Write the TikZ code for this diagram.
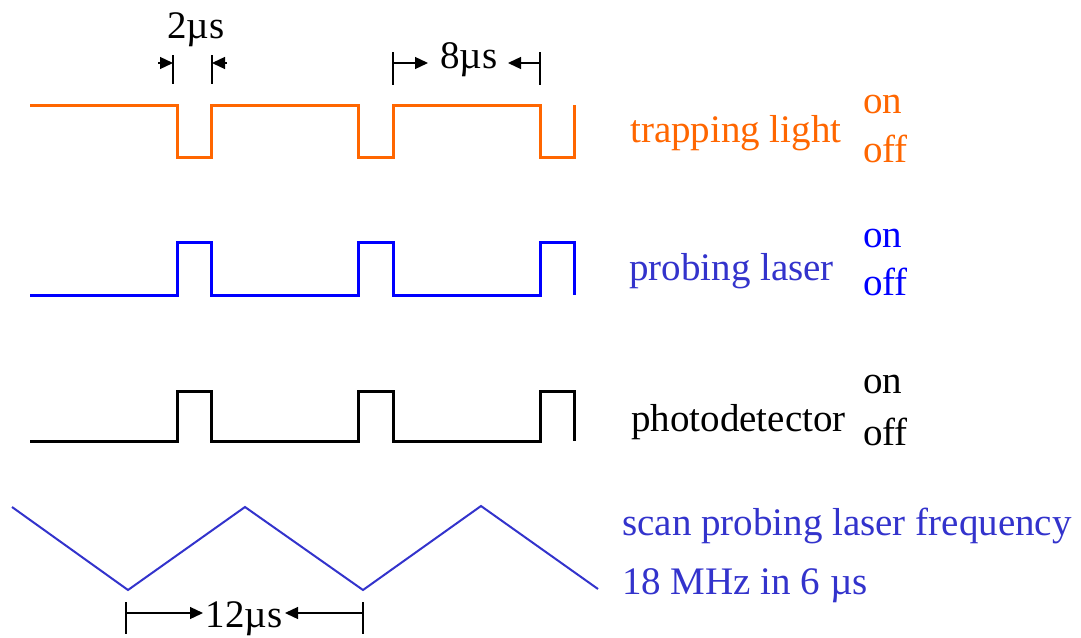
\documentclass[tikz,border=0pt]{standalone}
\usepackage{fontspec}
\setmainfont{Liberation Serif}
\usetikzlibrary{arrows.meta}
\definecolor{trap}{HTML}{FF6600}
\definecolor{probe}{HTML}{0000FF}
\definecolor{scanc}{HTML}{3333CC}
\begin{document}
\begin{tikzpicture}[x=1pt,y=-1pt,
  wave/.style={line width=3pt},
  tri/.style={line width=2pt,scanc},
  lab/.style={inner sep=0pt,anchor=base west,font=\fontsize{39}{45}\selectfont},
  dimtxt/.style={inner sep=0pt,anchor=base,font=\fontsize{39}{45}\selectfont},
  tick/.style={line width=1.3pt},
  dimarrow/.style={line width=1.3pt,-{Triangle[length=13pt,width=12pt]}}]
\useasboundingbox (0,0) rectangle (1081,637);
% waveforms
\draw[wave,trap] (30,105) -- (177,105) -- (177,157) -- (211,157) -- (211,105) -- (358,105) -- (358,157) -- (393,157) -- (393,105) -- (540,105) -- (540,157) -- (574,157) -- (574,105);
\draw[wave,probe] (30,295) -- (177,295) -- (177,242) -- (211,242) -- (211,295) -- (358,295) -- (358,242) -- (393,242) -- (393,295) -- (540,295) -- (540,242) -- (574,242) -- (574,295);
\draw[wave,black] (30,441) -- (177,441) -- (177,391) -- (211,391) -- (211,441) -- (358,441) -- (358,391) -- (393,391) -- (393,441) -- (540,441) -- (540,391) -- (574,391) -- (574,441);
\draw[tri] (12,507) -- (128,590) -- (245,507) -- (363,590) -- (481,506) -- (598,589);
% labels
\node[lab,trap] (trapl) at (630,142) {trapping light};
\node[lab,trap] (trapon) at (863,113) {on};
\node[lab,trap] (trapoff) at (863,162) {off};
\node[lab,scanc] (probel) at (629,280) {probing laser};
\node[lab,probe] (probeon) at (863,247) {on};
\node[lab,probe] (probeoff) at (863,295) {off};
\node[lab,black] (photol) at (631,431) {photodetector};
\node[lab,black] (photoon) at (863,393) {on};
\node[lab,black] (photooff) at (863,445) {off};
\node[lab,scanc] (scan1) at (622,535) {scan probing laser frequency};
\node[lab,scanc] (scan2) at (622,594) {18 MHz in 6 µs};
% dimension 2us
\node[dimtxt] (d2) at (196,38) {2µs};
\coordinate (a1) at (173,55); \coordinate (a1b) at (173,84);
\coordinate (a2) at (212,55); \coordinate (a2b) at (212,84);
\draw[tick] (a1) -- (a1b);
\draw[tick] (a2) -- (a2b);
\coordinate (a1s) at (158,63); \coordinate (a1t) at (173,63);
\coordinate (a2s) at (227,63); \coordinate (a2t) at (212,63);
\draw[dimarrow] (a1s) -- (a1t);
\draw[dimarrow] (a2s) -- (a2t);
% dimension 8us
\node[dimtxt] (d8) at (469,68) {8µs};
\coordinate (b1) at (393,52); \coordinate (b1b) at (393,85);
\coordinate (b2) at (540,52); \coordinate (b2b) at (540,85);
\draw[tick] (b1) -- (b1b);
\draw[tick] (b2) -- (b2b);
\coordinate (b1s) at (393,63); \coordinate (b1t) at (428,63);
\coordinate (b2s) at (540,63); \coordinate (b2t) at (508,63);
\draw[dimarrow] (b1s) -- (b1t);
\draw[dimarrow] (b2s) -- (b2t);
% dimension 12us
\node[dimtxt] (d12) at (244,627) {12µs};
\coordinate (c1) at (126,602); \coordinate (c1b) at (126,634);
\coordinate (c2) at (363,602); \coordinate (c2b) at (363,634);
\draw[tick] (c1) -- (c1b);
\draw[tick] (c2) -- (c2b);
\coordinate (c1s) at (126,613); \coordinate (c1t) at (203,613);
\coordinate (c2s) at (363,613); \coordinate (c2t) at (285,613);
\draw[dimarrow] (c1s) -- (c1t);
\draw[dimarrow] (c2s) -- (c2t);
\end{tikzpicture}
\end{document}
